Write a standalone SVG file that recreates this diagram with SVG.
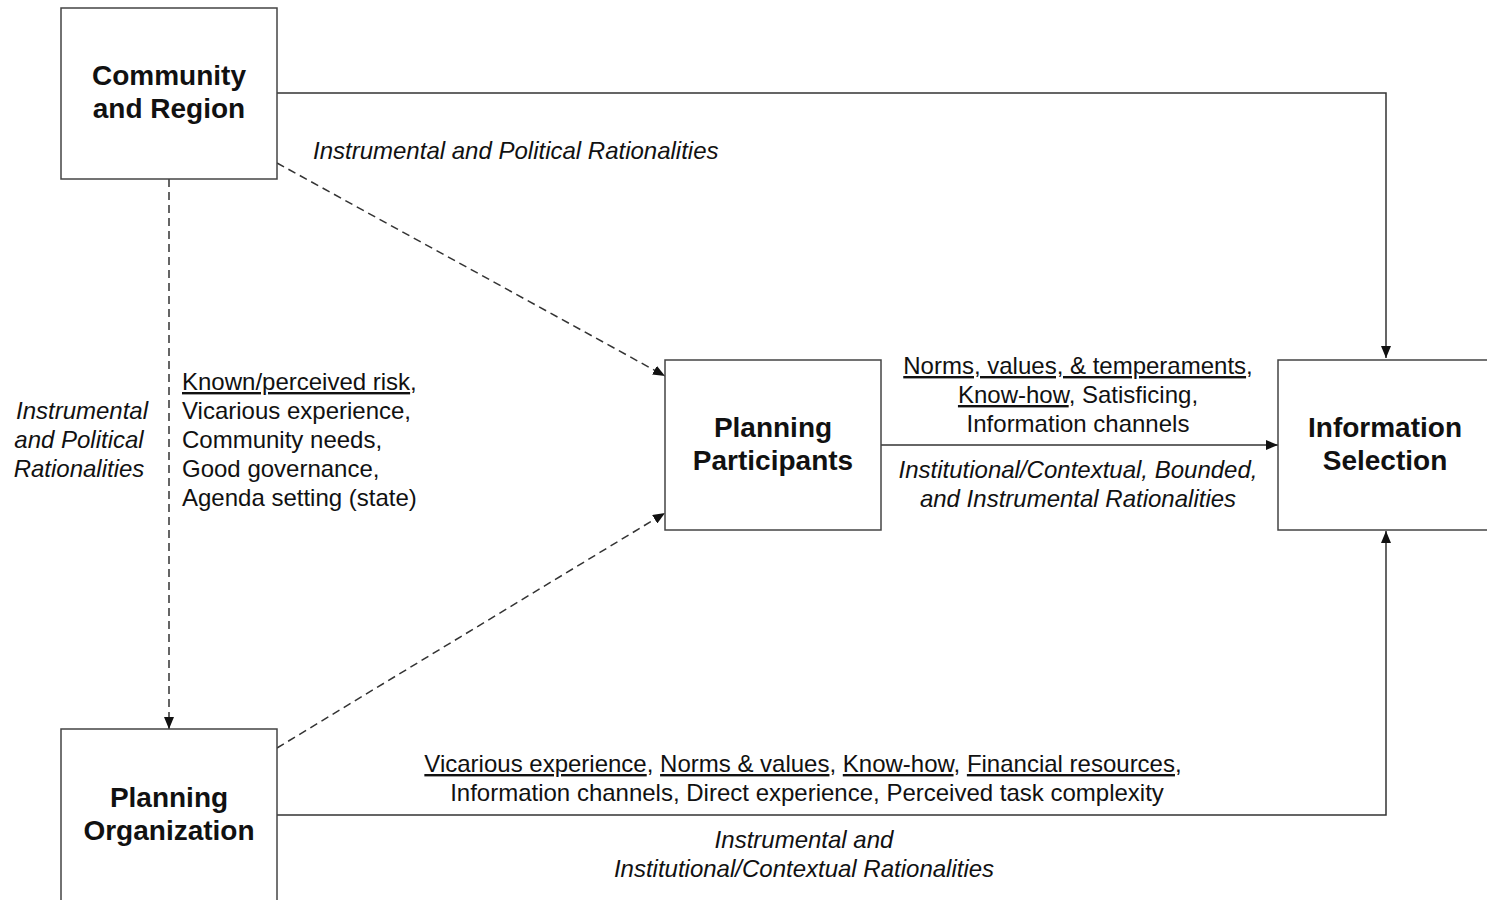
<svg xmlns="http://www.w3.org/2000/svg" width="1487" height="900" viewBox="0 0 1487 900">
<style>
.box{fill:#fff;stroke:#444;stroke-width:1.5}
.lbl{font-family:"Liberation Sans",Arial,sans-serif;font-weight:bold;font-size:28px;fill:#111;text-anchor:middle}
.t{font-family:"Liberation Sans",Arial,sans-serif;font-size:24px;fill:#111}
.i{font-style:italic}
.m{text-anchor:middle}
.u{text-decoration:underline}
.ln{fill:none;stroke:#333;stroke-width:1.5}
.d{stroke-dasharray:8,5}
</style>
<defs>
<marker id="ah" viewBox="0 0 12 10" refX="12" refY="5" markerWidth="12" markerHeight="10" markerUnits="userSpaceOnUse" orient="auto">
<path d="M0,0 L12,5 L0,10 z" fill="#111"/>
</marker>
</defs>
<rect width="1487" height="900" fill="#fff"/>
<g id="connectors">
<path class="ln" d="M277,93 H1386 V358" marker-end="url(#ah)"/>
<path class="ln d" d="M277,163 L665,376" marker-end="url(#ah)"/>
<path class="ln d" d="M169,179 V729" marker-end="url(#ah)"/>
<path class="ln d" d="M277,748 L665,513" marker-end="url(#ah)"/>
<path class="ln" d="M881,445 H1278" marker-end="url(#ah)"/>
<path class="ln" d="M277,815 H1386 V531" marker-end="url(#ah)"/>
</g>
<g id="community">
<rect class="box" x="61" y="8" width="216" height="171"/>
<text class="lbl" x="169" y="85">Community</text>
<text class="lbl" x="169" y="118">and Region</text>
</g>
<g id="organization">
<rect class="box" x="61" y="729" width="216" height="200"/>
<text class="lbl" x="169" y="807">Planning</text>
<text class="lbl" x="169" y="840">Organization</text>
</g>
<g id="participants">
<rect class="box" x="665" y="360" width="216" height="170"/>
<text class="lbl" x="773" y="437">Planning</text>
<text class="lbl" x="773" y="470">Participants</text>
</g>
<g id="selection">
<rect class="box" x="1278" y="360" width="230" height="170"/>
<text class="lbl" x="1385" y="437">Information</text>
<text class="lbl" x="1385" y="470">Selection</text>
</g>
<g id="labels">
<text class="t i" x="313" y="159">Instrumental and Political Rationalities</text>
<text class="t i m" x="82" y="419">Instrumental</text>
<text class="t i m" x="79" y="448">and Political</text>
<text class="t i m" x="79" y="477">Rationalities</text>
<text class="t" x="182" y="390"><tspan class="u">Known/perceived risk</tspan>,</text>
<text class="t" x="182" y="419">Vicarious experience,</text>
<text class="t" x="182" y="448">Community needs,</text>
<text class="t" x="182" y="477">Good governance,</text>
<text class="t" x="182" y="506">Agenda setting (state)</text>
<text class="t m" x="1078" y="374"><tspan class="u">Norms, values, &amp; temperaments</tspan>,</text>
<text class="t m" x="1078" y="403"><tspan class="u">Know-how</tspan>, Satisficing,</text>
<text class="t m" x="1078" y="432">Information channels</text>
<text class="t i m" x="1078" y="478">Institutional/Contextual, Bounded,</text>
<text class="t i m" x="1078" y="507">and Instrumental Rationalities</text>
<text class="t m" x="803" y="772"><tspan class="u">Vicarious experience</tspan>, <tspan class="u">Norms &amp; values</tspan>, <tspan class="u">Know-how</tspan>, <tspan class="u">Financial resources</tspan>,</text>
<text class="t m" x="807" y="801">Information channels, Direct experience, Perceived task complexity</text>
<text class="t i m" x="804" y="848">Instrumental and</text>
<text class="t i m" x="804" y="877">Institutional/Contextual Rationalities</text>
</g>
</svg>
